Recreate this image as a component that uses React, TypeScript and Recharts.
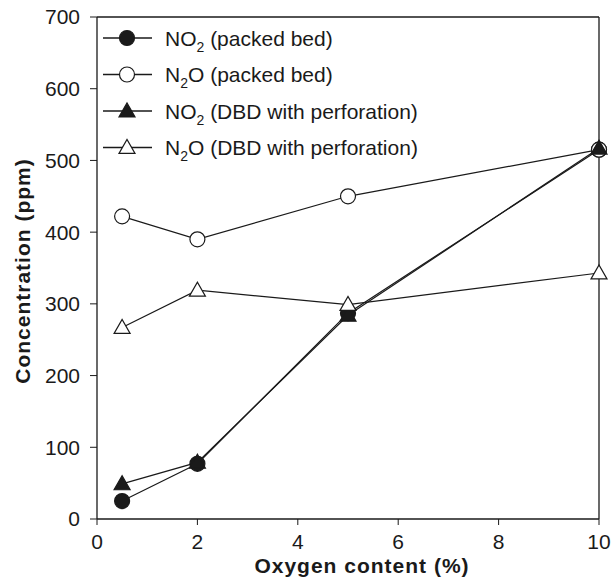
import React from 'react'
import { LineChart, Line, XAxis, YAxis, ReferenceLine, Label } from 'recharts'

const oxygen = [0.5, 2, 5, 10]
const no2Packed = [25, 77, 287, 515]
const n2oPacked = [422, 390, 450, 515]
const no2Dbd = [49, 79, 284, 517]
const n2oDbd = [267, 319, 299, 343]

const xTicks = [0, 2, 4, 6, 8, 10]
const yTicks = [0, 100, 200, 300, 400, 500, 600, 700]

const INK = '#1a1a1a'
const FONT = '"Liberation Sans", Arial, Helvetica, sans-serif'

const data = oxygen.map((x, i) => ({
  x,
  no2Packed: no2Packed[i],
  n2oPacked: n2oPacked[i],
  no2Dbd: no2Dbd[i],
  n2oDbd: n2oDbd[i],
}))

type Shape = 'circle' | 'triangle'

const marker = (shape: Shape, filled: boolean, cx: number, cy: number, key?: string | number) => {
  const fill = filled ? INK : '#fff'
  if (shape === 'circle') {
    return <circle key={key} cx={cx} cy={cy} r={7.5} fill={fill} stroke={INK} strokeWidth={1.2} />
  }
  const w = 8
  const h = 14
  return (
    <polygon
      key={key}
      points={`${cx - w},${cy + h * 0.42} ${cx + w},${cy + h * 0.42} ${cx},${cy - h * 0.58}`}
      fill={fill}
      stroke={INK}
      strokeWidth={1.2}
    />
  )
}

const dotFor = (shape: Shape, filled: boolean) => (p: any) =>
  marker(shape, filled, p.cx, p.cy, `${shape}-${filled}-${p.index}`)

const legendItems: { chem: string; sub: string; tail: string; shape: Shape; filled: boolean }[] = [
  { chem: 'NO', sub: '2', tail: ' (packed bed)', shape: 'circle', filled: true },
  { chem: 'N', sub: '2', tail: 'O (packed bed)', shape: 'circle', filled: false },
  { chem: 'NO', sub: '2', tail: ' (DBD with perforation)', shape: 'triangle', filled: true },
  { chem: 'N', sub: '2', tail: 'O (DBD with perforation)', shape: 'triangle', filled: false },
]

const ChartLegend = () => (
  <svg width={360} height={150} style={{ display: 'block' }}>
    {legendItems.map((it, i) => {
      const y = 11 + i * 36.5
      return (
        <g key={i}>
          <line x1={6} x2={55} y1={y} y2={y} stroke={INK} strokeWidth={1.3} />
          {marker(it.shape, it.filled, 30, y)}
          <text x={68} y={y + 7.5} fontSize={21} fill={INK} fontFamily={FONT}>
            {it.chem}
            <tspan fontSize={14} dy={6}>{it.sub}</tspan>
            <tspan dy={-6}>{it.tail}</tspan>
          </text>
        </g>
      )
    })}
  </svg>
)

export default function App() {
  const tick = { fontSize: 21, fill: INK, fontFamily: FONT }
  const title = { fontSize: 21, fontWeight: 'bold' as const, fill: INK, fontFamily: FONT, letterSpacing: 1 }
  return (
    <div style={{ position: 'absolute', left: 0, top: 0, width: 613, height: 581, background: '#fff' }}>
      <LineChart width={613} height={581} data={data} margin={{ top: 17, right: 14, left: 0, bottom: 0 }}>
        <XAxis
          dataKey="x"
          type="number"
          domain={[0, 10]}
          ticks={xTicks}
          tick={tick}
          tickSize={6}
          tickMargin={9}
          height={62}
          stroke={INK}
          axisLine={{ stroke: INK, strokeWidth: 1.3 }}
        >
          <Label
            content={() => (
              <text x={362} y={573} textAnchor="middle" style={title}>
                Oxygen content (%)
              </text>
            )}
          />
        </XAxis>
        <YAxis
          type="number"
          domain={[0, 700]}
          ticks={yTicks}
          tick={tick}
          tickSize={7}
          tickMargin={10}
          width={97}
          stroke={INK}
          axisLine={{ stroke: INK, strokeWidth: 1.3 }}
        >
          <Label
            content={() => (
              <text
                x={22}
                y={271}
                transform="rotate(-90 22 271)"
                textAnchor="middle"
                dominantBaseline="central"
                style={title}
              >
                Concentration (ppm)
              </text>
            )}
          />
        </YAxis>
        <ReferenceLine y={700} stroke={INK} strokeWidth={1.3} />
        <ReferenceLine x={10} stroke={INK} strokeWidth={1.3} />
        <Line
          dataKey="no2Packed"
          stroke={INK}
          strokeWidth={1.2}
          dot={dotFor('circle', true)}
          isAnimationActive={false}
        />
        <Line
          dataKey="n2oPacked"
          stroke={INK}
          strokeWidth={1.2}
          dot={dotFor('circle', false)}
          isAnimationActive={false}
        />
        <Line
          dataKey="no2Dbd"
          stroke={INK}
          strokeWidth={1.2}
          dot={dotFor('triangle', true)}
          isAnimationActive={false}
        />
        <Line
          dataKey="n2oDbd"
          stroke={INK}
          strokeWidth={1.2}
          dot={dotFor('triangle', false)}
          isAnimationActive={false}
        />
      </LineChart>
      <div style={{ position: 'absolute', left: 97, top: 27 }}>
        <ChartLegend />
      </div>
    </div>
  )
}
